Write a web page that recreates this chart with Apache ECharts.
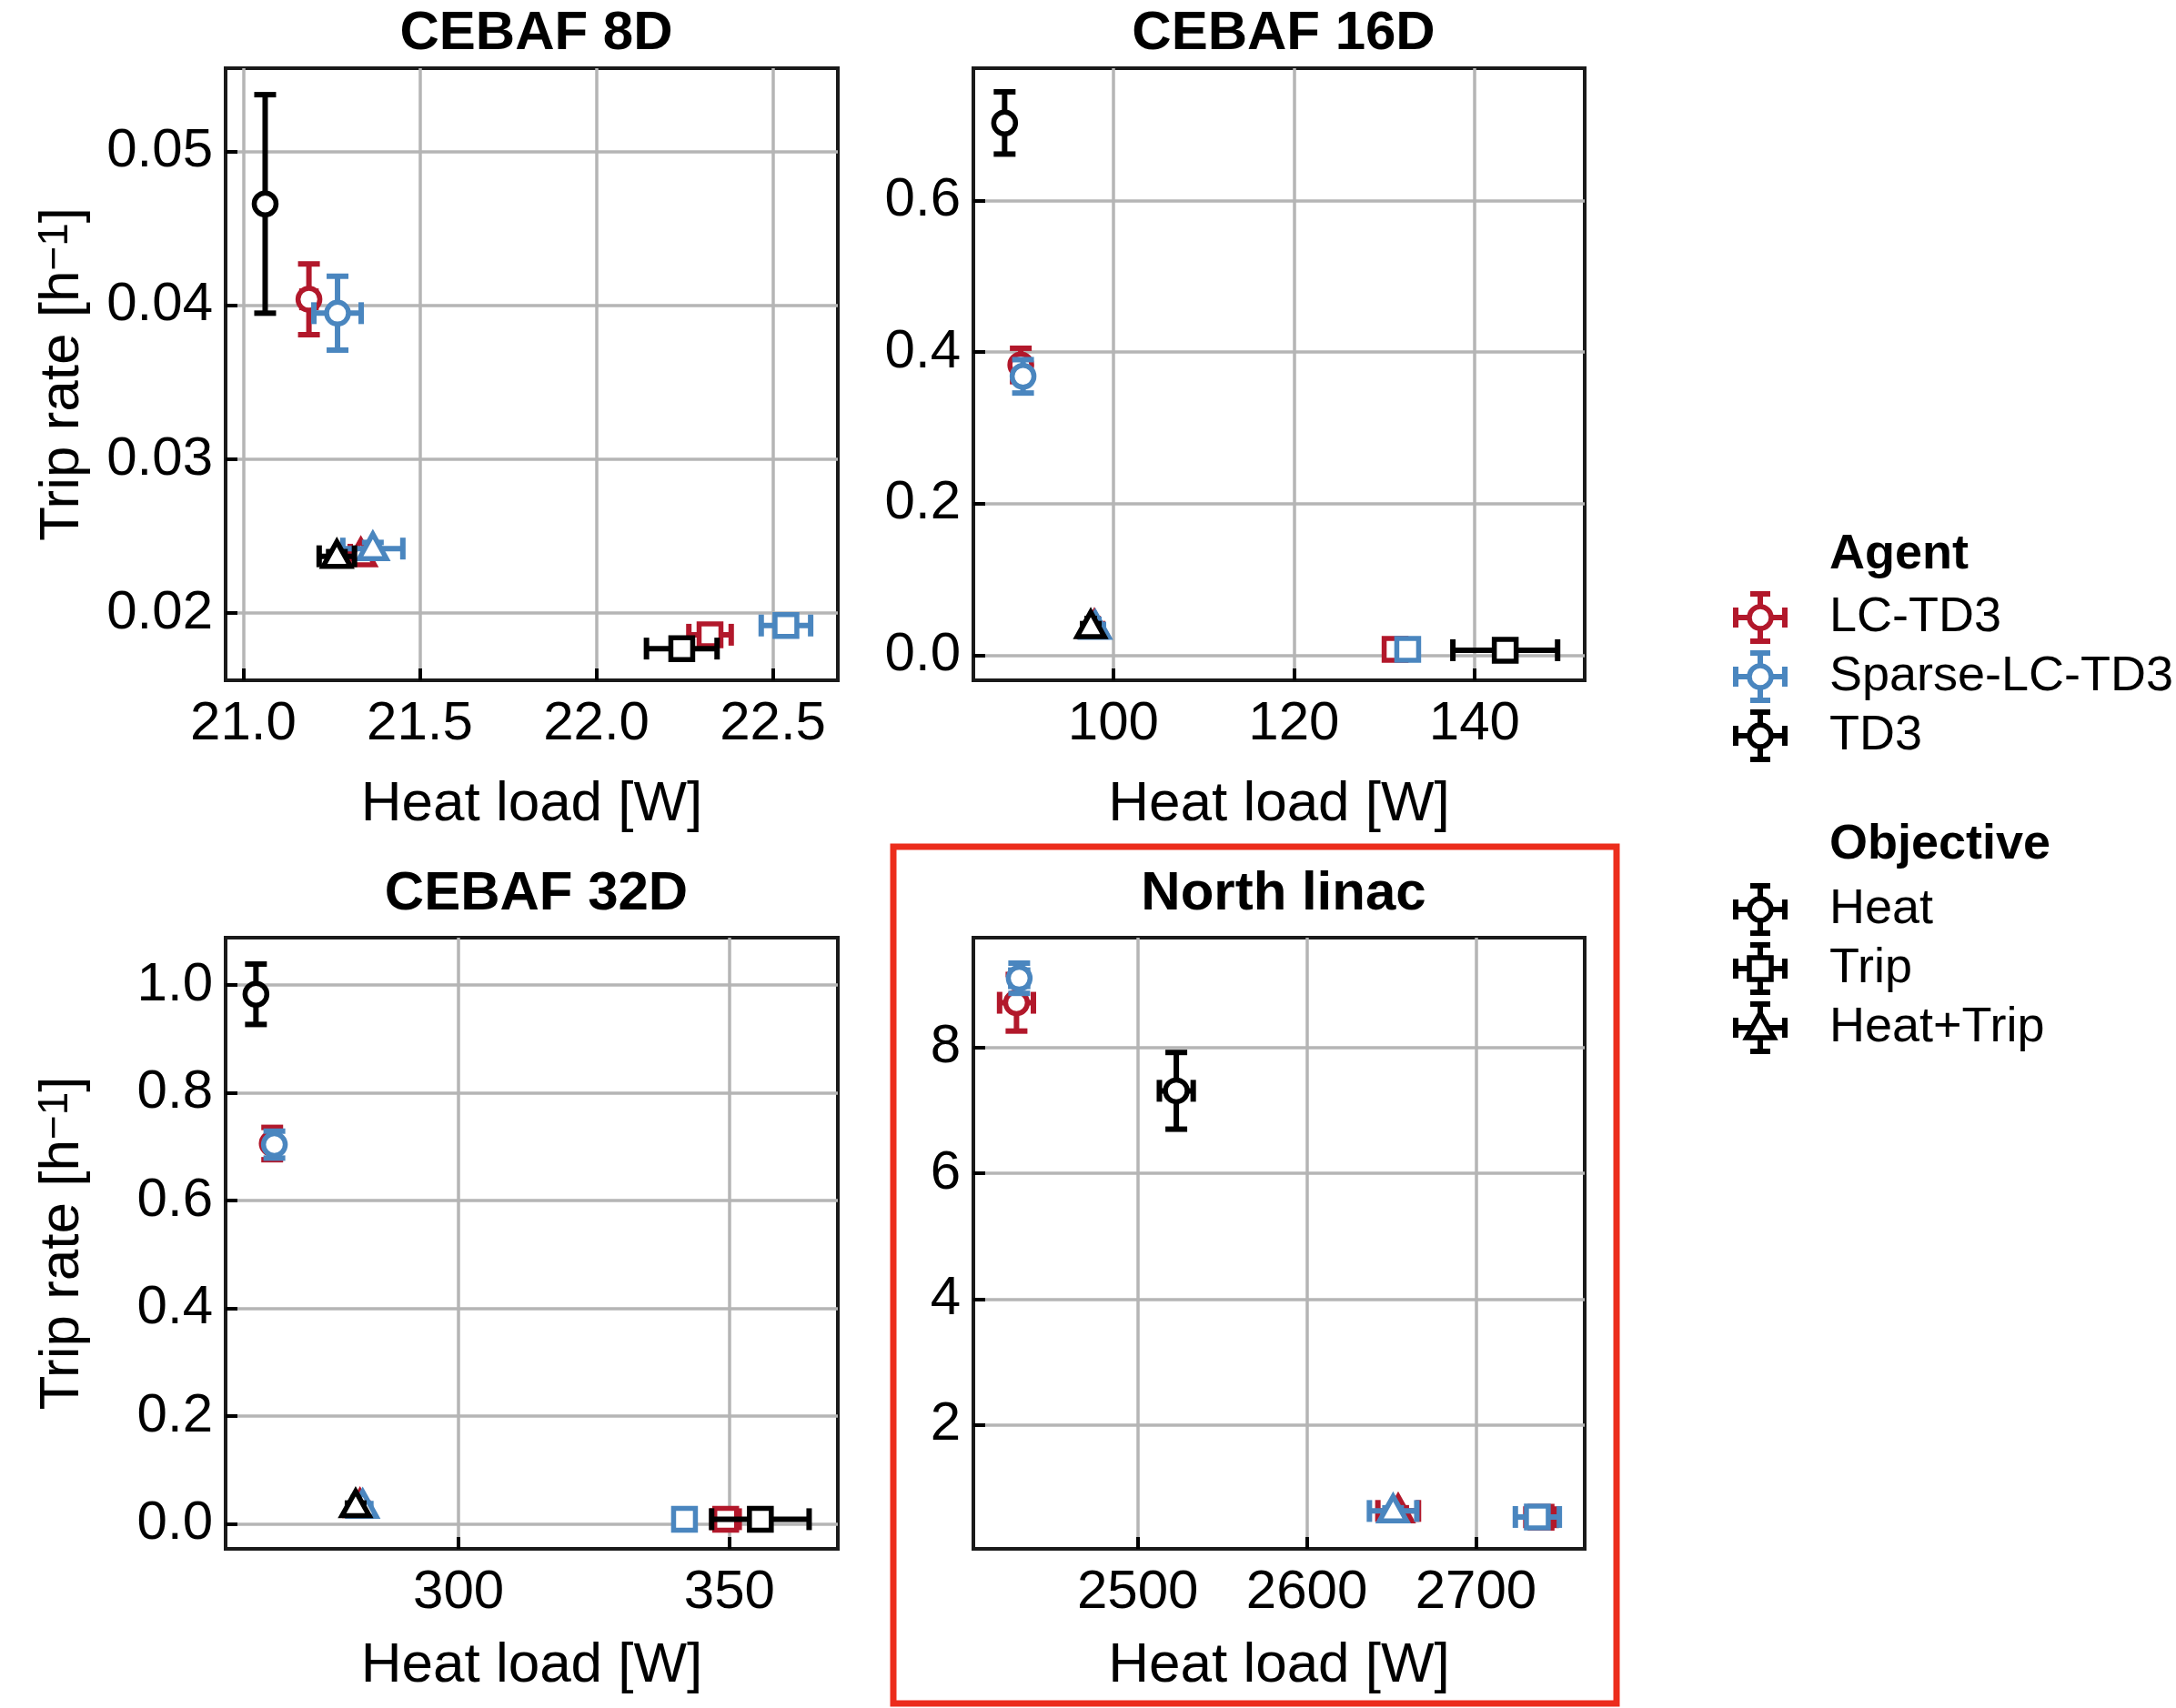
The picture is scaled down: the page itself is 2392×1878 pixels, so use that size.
<!DOCTYPE html>
<html>
<head>
<meta charset="utf-8">
<script src="https://cdn.jsdelivr.net/npm/echarts@6/dist/echarts.min.js"></script>
<style>
  html, body { margin: 0; padding: 0; background: #fff; }
  #chart { width: 2392px; height: 1878px; }
</style>
</head>
<body>
<div id="chart"></div>
<script>
var agentNames = ['LC-TD3', 'Sparse-LC-TD3', 'TD3'];
var agentColors = ['#b2182b', '#4a86bf', '#000000'];
var objectiveNames = ['Heat', 'Trip', 'Heat+Trip'];
var panelTitles = ['CEBAF 8D', 'CEBAF 16D', 'CEBAF 32D', 'North linac'];

// rows: Heat, Trip, Heat+Trip -> [heat load, heat load err, trip rate, trip rate err]
var cebaf8D_LC = [[21.186, 0.02, 0.0404, 0.0023], [22.322, 0.06, 0.0186, 0.0003], [21.333, 0.03, 0.0238, 0.0003]];
var cebaf8D_Sparse = [[21.267, 0.067, 0.0395, 0.0024], [22.537, 0.07, 0.0192, 0.0003], [21.367, 0.085, 0.0242, 0.0004]];
var cebaf8D_TD3 = [[21.062, 0.005, 0.0466, 0.0071], [22.242, 0.1, 0.0177, 0.0003], [21.265, 0.05, 0.0237, 0.0003]];

var cebaf16D_LC = [[89.75, 0.5, 0.383, 0.022], [131.2, 1.0, 0.008, 0.004], [97.9, 0.4, 0.038, 0.004]];
var cebaf16D_Sparse = [[90.0, 0.5, 0.368, 0.022], [132.6, 1.0, 0.008, 0.004], [98.0, 0.4, 0.037, 0.004]];
var cebaf16D_TD3 = [[87.96, 0.3, 0.702, 0.041], [143.4, 5.8, 0.007, 0.004], [97.5, 0.4, 0.038, 0.004]];

var cebaf32D_LC = [[265.6, 0.4, 0.706, 0.03], [349.3, 2.5, 0.009, 0.005], [281.8, 0.4, 0.034, 0.005]];
var cebaf32D_Sparse = [[266.0, 0.4, 0.704, 0.025], [341.7, 0.5, 0.009, 0.005], [282.3, 0.4, 0.033, 0.005]];
var cebaf32D_TD3 = [[262.6, 0.3, 0.983, 0.056], [355.7, 9.0, 0.009, 0.005], [281.0, 0.4, 0.034, 0.005]];

var northLinac_LC = [[2428.3, 10, 8.71, 0.45], [2738.5, 9, 0.53, 0.05], [2654, 12, 0.63, 0.05]];
var northLinac_Sparse = [[2429.9, 5, 9.10, 0.24], [2736.3, 13, 0.534, 0.05], [2651, 14, 0.629, 0.05]];
var northLinac_TD3 = [[2522.8, 10, 7.31, 0.61], null, null];

var xLimits = [[20.950, 22.684], [84.5, 152.2], [257.0, 370.0], [2402.8, 2764.3]];
var yLimits = [[0.01564, 0.05542], [-0.0327, 0.7742], [-0.046, 1.088], [0.027, 9.745]];
var xTicks = [[21.0, 21.5, 22.0, 22.5], [100, 120, 140], [300, 350], [2500, 2600, 2700]];
var yTicks = [[0.02, 0.03, 0.04, 0.05], [0.0, 0.2, 0.4, 0.6], [0.0, 0.2, 0.4, 0.6, 0.8, 1.0], [2, 4, 6, 8]];
var xDecimals = [1, 0, 0, 0];
var yDecimals = [2, 1, 1, 0];

var panelData = [
    [cebaf8D_LC, cebaf8D_Sparse, cebaf8D_TD3],
    [cebaf16D_LC, cebaf16D_Sparse, cebaf16D_TD3],
    [cebaf32D_LC, cebaf32D_Sparse, cebaf32D_TD3],
    [northLinac_LC, northLinac_Sparse, northLinac_TD3]
];

// left, top, width, height of each axes box
var boxes = [[248, 75, 673, 673], [1070, 75, 672, 673], [248, 1031, 673, 672], [1070, 1031, 672, 672]];
var titleTops = [2, 948];
var xNameGaps = [106, 106, 98, 98];
var font = 'Liberation Sans';

var chart = echarts.init(document.getElementById('chart'), null, { width: 2392, height: 1878 });

function markerShape(kind, cx, cy, color) {
    var st = { fill: '#fff', stroke: color, lineWidth: 5.5 };
    if (kind === 0) {
        return { type: 'circle', shape: { cx: cx, cy: cy, r: 12 }, style: st };
    }
    if (kind === 1) {
        return { type: 'rect', shape: { x: cx - 12, y: cy - 12, width: 24, height: 24 }, style: st };
    }
    return { type: 'polygon', shape: { points: [[cx, cy - 16], [cx + 15, cy + 11], [cx - 15, cy + 11]] }, style: st };
}

function errorBars(color) {
    return function (params, api) {
        var x = api.value(0), xe = api.value(1), y = api.value(2), ye = api.value(3), kind = api.value(4);
        var c = api.coord([x, y]);
        var l = api.coord([x - xe, y]), r = api.coord([x + xe, y]);
        var t = api.coord([x, y + ye]), b = api.coord([x, y - ye]);
        var st = { stroke: color, lineWidth: 6 };
        var cap = 12;
        return {
            type: 'group',
            children: [
                { type: 'line', shape: { x1: l[0], y1: c[1], x2: r[0], y2: c[1] }, style: st },
                { type: 'line', shape: { x1: c[0], y1: t[1], x2: c[0], y2: b[1] }, style: st },
                { type: 'line', shape: { x1: l[0], y1: c[1] - cap, x2: l[0], y2: c[1] + cap }, style: st },
                { type: 'line', shape: { x1: r[0], y1: c[1] - cap, x2: r[0], y2: c[1] + cap }, style: st },
                { type: 'line', shape: { x1: c[0] - cap, y1: t[1], x2: c[0] + cap, y2: t[1] }, style: st },
                { type: 'line', shape: { x1: c[0] - cap, y1: b[1], x2: c[0] + cap, y2: b[1] }, style: st },
                markerShape(kind, c[0], c[1], color)
            ]
        };
    };
}

function legendHandle(cx, cy, color, kind) {
    var w = 27, h = 26, cap = 11;
    var st = { stroke: color, lineWidth: 6 };
    return {
        type: 'group',
        children: [
            { type: 'line', shape: { x1: cx - w, y1: cy, x2: cx + w, y2: cy }, style: st },
            { type: 'line', shape: { x1: cx, y1: cy - h, x2: cx, y2: cy + h }, style: st },
            { type: 'line', shape: { x1: cx - w, y1: cy - cap, x2: cx - w, y2: cy + cap }, style: st },
            { type: 'line', shape: { x1: cx + w, y1: cy - cap, x2: cx + w, y2: cy + cap }, style: st },
            { type: 'line', shape: { x1: cx - cap, y1: cy - h, x2: cx + cap, y2: cy - h }, style: st },
            { type: 'line', shape: { x1: cx - cap, y1: cy + h, x2: cx + cap, y2: cy + h }, style: st },
            markerShape(kind, cx, cy, color)
        ]
    };
}

function legendText(x, y, text, bold) {
    return {
        type: 'text', x: x, y: y,
        style: { text: text, fontSize: 54, fontFamily: font, fontWeight: bold ? 'bold' : 'normal', fill: '#000', verticalAlign: 'middle', align: 'left' }
    };
}

var grids = [], xAxes = [], yAxes = [], titles = [], series = [];
for (var p = 0; p < 4; p++) {
    var bx = boxes[p];
    grids.push({
        left: bx[0], top: bx[1], width: bx[2], height: bx[3],
        show: true, borderColor: '#1a1a1a', borderWidth: 4, backgroundColor: 'transparent',
        outerBoundsMode: 'none', containLabel: false
    });
    titles.push({
        text: panelTitles[p], left: bx[0] + bx[2] / 2, top: titleTops[p < 2 ? 0 : 1], textAlign: 'center',
        textStyle: { fontSize: 60, fontWeight: 'bold', fontFamily: font, color: '#000' }
    });
    (function (p) {
        xAxes.push({
            type: 'value', gridIndex: p, min: xLimits[p][0], max: xLimits[p][1],
            name: 'Heat load [W]', nameLocation: 'middle', nameGap: xNameGaps[p],
            nameTextStyle: { fontSize: 62, fontFamily: font, color: '#000' },
            axisLine: { show: false, onZero: false },
            axisTick: { show: true, inside: true, length: 13, customValues: xTicks[p], lineStyle: { color: '#000', width: 4 } },
            axisLabel: {
                customValues: xTicks[p], fontSize: 60, fontFamily: font, color: '#000', margin: 18,
                formatter: function (v) { return v.toFixed(xDecimals[p]); }
            },
            splitLine: { show: true, lineStyle: { color: '#b5b5b5', width: 3.5 } }
        });
        var yAxis = {
            type: 'value', gridIndex: p, min: yLimits[p][0], max: yLimits[p][1],
            axisLine: { show: false, onZero: false },
            axisTick: { show: true, inside: true, length: 13, customValues: yTicks[p], lineStyle: { color: '#000', width: 4 } },
            axisLabel: {
                customValues: yTicks[p], fontSize: 60, fontFamily: font, color: '#000', margin: 14,
                formatter: function (v) { return v.toFixed(yDecimals[p]); }
            },
            splitLine: { show: true, lineStyle: { color: '#b5b5b5', width: 3.5 } }
        };
        if (p % 2 === 0) {
            yAxis.name = 'Trip rate [h{sup|\u22121}]';
            yAxis.nameLocation = 'middle';
            yAxis.nameGap = 148;
            yAxis.nameTextStyle = {
                fontSize: 62, fontFamily: font, color: '#000', lineHeight: 62,
                rich: { sup: { fontSize: 46, fontFamily: font, color: '#000', lineHeight: 10, verticalAlign: 'top' } }
            };
        }
        yAxes.push(yAxis);
    })(p);

    for (var a = 0; a < 3; a++) {
        var rows = panelData[p][a];
        var data = [];
        for (var k = 0; k < rows.length; k++) {
            if (rows[k]) data.push([rows[k][0], rows[k][1], rows[k][2], rows[k][3], k]);
        }
        series.push({
            type: 'custom', name: agentNames[a], xAxisIndex: p, yAxisIndex: p,
            dimensions: ['load', 'loadErr', 'rate', 'rateErr', 'objective'],
            encode: { x: 0, y: 2 },
            renderItem: errorBars(agentColors[a]),
            data: data, z: 10 + a, silent: true
        });
    }
}

// legend drawn as graphics: agents (colour) and objectives (marker)
var handleX = 1935, textX = 2011;
var legendEls = [legendText(textX, 610, 'Agent', true)];
var agentRowsY = [679, 744, 809];
for (var i = 0; i < 3; i++) {
    legendEls.push(legendHandle(handleX, agentRowsY[i], agentColors[i], 0));
    legendEls.push(legendText(textX, agentRowsY[i], agentNames[i], false));
}
legendEls.push(legendText(textX, 929, 'Objective', true));
var objRowsY = [1000, 1065, 1130];
for (var j = 0; j < 3; j++) {
    legendEls.push(legendHandle(handleX, objRowsY[j], '#000', j));
    legendEls.push(legendText(textX, objRowsY[j], objectiveNames[j], false));
}
// red highlight box round the North linac panel
legendEls.push({
    type: 'rect', shape: { x: 982, y: 931, width: 795, height: 942 },
    style: { fill: 'none', stroke: '#ec2d1c', lineWidth: 7 }
});

chart.setOption({
    backgroundColor: '#fff',
    animation: false,
    title: titles,
    grid: grids,
    xAxis: xAxes,
    yAxis: yAxes,
    series: series,
    graphic: { elements: legendEls }
});
</script>
</body>
</html>
